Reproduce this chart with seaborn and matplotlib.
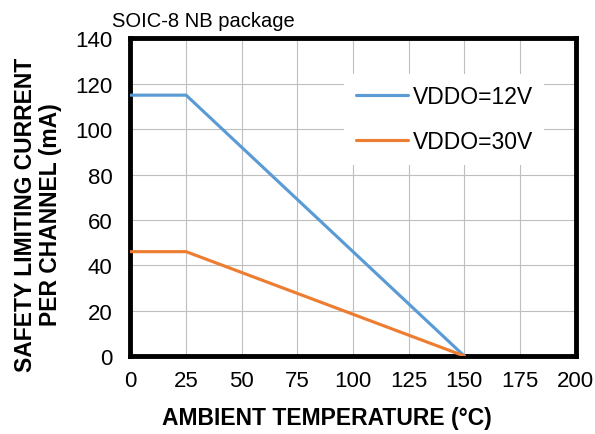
import pandas as pd
import matplotlib.pyplot as plt
import seaborn as sns

temperature = [0, 25, 150]
courant_12v = [115, 115, 0]
courant_30v = [46, 46, 0]
series = ['VDDO=12V', 'VDDO=30V']
couleurs = ['#5B9BD5', '#ED7D31']
x_ticks = [0, 25, 50, 75, 100, 125, 150, 175, 200]
y_ticks = [0, 20, 40, 60, 80, 100, 120, 140]

df = pd.DataFrame({
    'temp': temperature * 2,
    'courant': courant_12v + courant_30v,
    'serie': [series[0]] * 3 + [series[1]] * 3,
})

sns.set_theme(style='whitegrid')
plt.rcParams['font.family'] = ['Liberation Sans', 'DejaVu Sans']

fig = plt.figure(figsize=(5.95, 4.35), dpi=100)
ax = fig.add_axes([0.2193, 0.1793, 0.748, 0.730])

sns.lineplot(data=df, x='temp', y='courant', hue='serie', hue_order=series,
             palette=couleurs, linewidth=2.25, ax=ax, zorder=3)

ax.set_xlim(0, 200)
ax.set_ylim(0, 140)
ax.set_xticks(x_ticks)
ax.set_yticks(y_ticks)
ax.tick_params(axis='both', labelsize=16, length=0, colors='black')
ax.tick_params(axis='x', pad=10)
ax.tick_params(axis='y', pad=13)
ax.grid(True, color='#BFBFBF', linewidth=0.8)
for sp in ax.spines.values():
    sp.set_color('black')
    sp.set_linewidth(3.5)

ax.set_xlabel('AMBIENT TEMPERATURE (°C)', fontsize=16.5, fontweight='bold',
              color='black', va='center')
ax.xaxis.set_label_coords(0.4416, -0.195)
ax.set_ylabel('SAFETY LIMITING CURRENT\nPER CHANNEL (mA)', fontsize=16.5,
              fontweight='bold', color='black', linespacing=1.1, va='center')
ax.yaxis.set_label_coords(-0.208, 0.447)
ax.text(-0.0416, 1.039, 'SOIC-8 NB package', transform=ax.transAxes,
        fontsize=14.5, color='black', ha='left', va='baseline')

leg = ax.legend(loc='upper left', bbox_to_anchor=(0.480, 0.888), frameon=True,
                facecolor='white', edgecolor='none', framealpha=1,
                fontsize=16.5, handlelength=2.27, handletextpad=0.22,
                labelspacing=0.95, borderpad=0.5, borderaxespad=0,
                fancybox=False)
for line in leg.get_lines():
    line.set_linewidth(2.25)
for t in leg.get_texts():
    t.set_color('black')

fig.savefig('out.png', dpi=100)
